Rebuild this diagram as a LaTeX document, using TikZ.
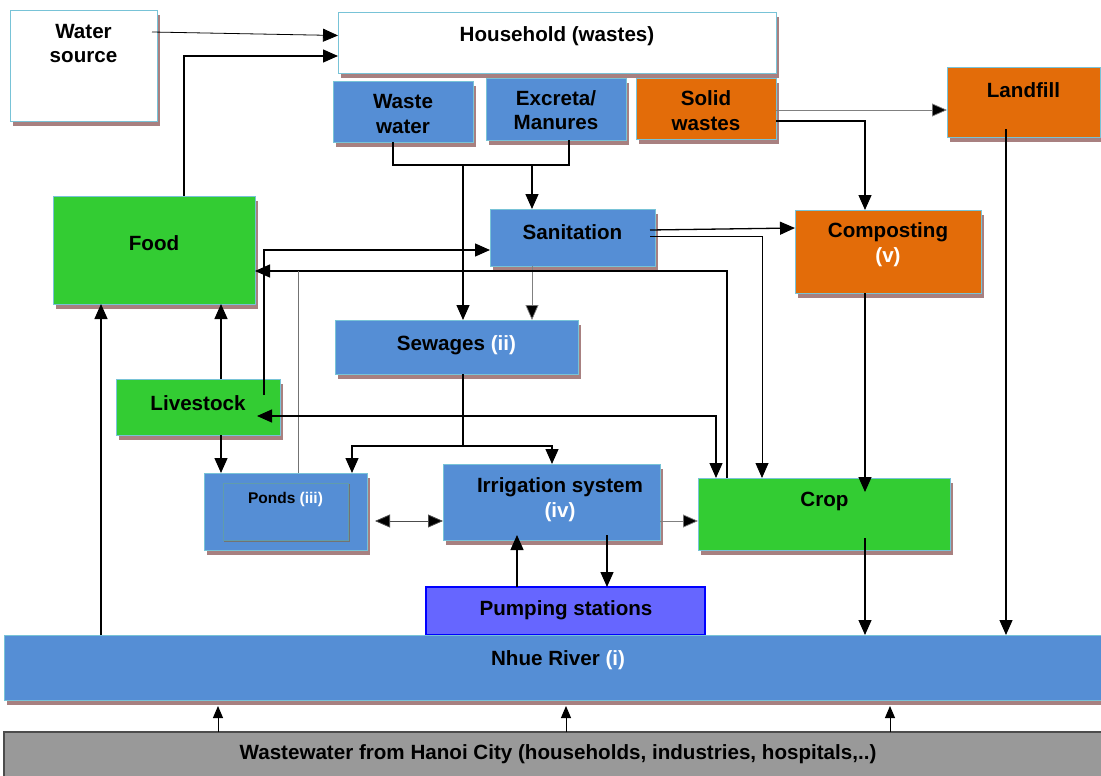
\documentclass[tikz,border=0pt]{standalone}
\usepackage{fontspec}
\setmainfont{Liberation Sans}
\usetikzlibrary{arrows.meta,calc,shadows}
\definecolor{bl}{RGB}{85,142,213}
\definecolor{og}{RGB}{227,108,9}
\definecolor{gr}{RGB}{51,204,51}
\definecolor{pu}{RGB}{102,102,255}
\definecolor{gy}{RGB}{153,153,153}
\definecolor{bd}{RGB}{120,195,215}
\definecolor{shd}{RGB}{168,128,128}
\begin{document}
\begin{tikzpicture}[x=1pt,y=-1pt,
  box/.style={draw=bd, line width=0.8pt, inner sep=0pt, outer sep=0pt,
    drop shadow={shadow xshift=3pt,shadow yshift=-5pt,fill=shd,opacity=1,draw=none}},
  flat/.style={inner sep=0pt, outer sep=0pt},
  lbl/.style={font=\fontsize{20.6}{24.5}\selectfont\bfseries, align=center, inner sep=0pt},
  slbl/.style={font=\fontsize{15.5}{18}\selectfont\bfseries, align=center, inner sep=0pt},
  line/.style={line width=1.3pt},
  arr/.style={line width=1.3pt, -{Triangle[length=15pt,width=13pt]}},
  arrb/.style={line width=1.3pt, {Triangle[length=15pt,width=13pt]}-{Triangle[length=15pt,width=13pt]}},
  tarr/.style={line width=0.8pt, -{Triangle[length=15pt,width=13pt]}},
  tarrb/.style={line width=0.8pt, draw=black!70, {Triangle[length=15pt,width=13pt,fill=black]}-{Triangle[length=15pt,width=13pt,fill=black]}},
  garr/.style={line width=0.7pt, draw=black!50, -{Triangle[length=15pt,width=13pt,fill=black]}},
  gline/.style={line width=0.7pt, draw=black!55},
  sarr/.style={line width=1pt, -{Triangle[length=12pt,width=10pt]}}
]
\useasboundingbox (0,0) rectangle (1101,776);
\clip (0,0) rectangle (1101,776);

% boxes
\node[box, fill=white, minimum width=147pt, minimum height=111pt] (ws) at (83.5,65.5) {};
\node[box, fill=white, minimum width=438pt, minimum height=61pt] (hh) at (557,42.5) {};
\node[box, fill=bl, minimum width=140pt, minimum height=61pt] (wwt) at (403,111.5) {};
\node[box, fill=bl, minimum width=140pt, minimum height=62pt] (exc) at (556,109) {};
\node[box, fill=og, minimum width=140pt, minimum height=61pt] (sol) at (706,108.5) {};
\node[box, fill=og, minimum width=153pt, minimum height=70pt] (land) at (1023.5,102) {};
\node[box, fill=gr, minimum width=202pt, minimum height=108pt] (food) at (154,250) {};
\node[box, fill=bl, minimum width=165pt, minimum height=57pt] (san) at (572.5,237.5) {};
\node[box, fill=og, minimum width=186pt, minimum height=83pt] (comp) at (888,251.5) {};
\node[box, fill=bl, minimum width=243pt, minimum height=54pt] (sew) at (456.5,347) {};
\node[box, fill=gr, minimum width=164pt, minimum height=56pt] (live) at (198,407) {};
\node[box, fill=bl, minimum width=163pt, minimum height=77pt] (ponds) at (285.5,511.5) {};
\node[flat, draw=black!55, line width=0.6pt, fill=black!55, minimum width=125pt, minimum height=57pt] (pondsh) at (287,513) {};
\node[flat, draw=bd!80!black, line width=0.6pt, fill=bl, minimum width=125pt, minimum height=57pt] (pondsin) at (285.5,511.5) {};
\node[box, fill=bl, minimum width=217pt, minimum height=76pt] (irr) at (551.5,502) {};
\node[box, fill=gr, minimum width=252pt, minimum height=72pt] (crop) at (824,514) {};
\node[flat, draw=blue, line width=1.5pt, fill=pu, minimum width=279pt, minimum height=48pt] (pump) at (565.5,611) {};
\node[box, fill=bl, minimum width=1106pt, minimum height=65pt] (nhue) at (557,667.5) {};
\node[flat, draw=black!70, line width=1.5pt, fill=gy, minimum width=1106pt, minimum height=53pt] (hanoi) at (557,758.5) {};

% labels
\node[lbl] (wsT) at (83.5,43.5) {Water\\source};
\node[lbl] (hhT) at (557,36) {Household (wastes)};
\node[lbl] (wwtT) at (403,114) {Waste\\water};
\node[lbl] (excT) at (556,110) {Excreta/\\Manures};
\node[lbl] (solT) at (706,110.5) {Solid\\wastes};
\node[lbl] (landT) at (1023.5,90) {Landfill};
\node[lbl] (foodT) at (154,243) {Food};
\node[lbl] (sanT) at (572.5,232) {Sanitation};
\node[lbl] (compT) at (888,244.5) {Composting\\{\color{white}(v)}};
\node[lbl] (sewT) at (456.5,345) {Sewages {\color{white}(ii)}};
\node[lbl] (liveT) at (198,403) {Livestock};
\node[slbl] (pondsT) at (285.5,499) {Ponds {\color{white}(iii)}};
\node[lbl] (irrT) at (560,499.5) {Irrigation system\\{\color{white}(iv)}};
\node[lbl] (cropT) at (824.5,501) {Crop};
\node[lbl] (pumpT) at (566,610) {Pumping stations};
\node[lbl] (nhueT) at (558,660) {Nhue River {\color{white}(i)}};
\node[lbl] (hanoiT) at (558,754) {Wastewater from Hanoi City (households, industries, hospitals,..)};

% connectors
\draw[tarr] ($(ws.north east)+(-5,22)$) -- ($(hh.north west)+(0,23.5)$);
\draw[arr] ($(food.north west)+(131,0)$) |- ($(hh.north west)+(0,44)$);
\draw[line] ($(wwt.south west)+(60,0)$) |- ($(exc.south west)+(83,25)$) -- ($(exc.south west)+(83,0)$);
\draw[arr] ($(san.north west)+(42,-44)$) -- ($(san.north west)+(42,0)$);
\draw[arr] ($(sew.north west)+(128,-155)$) -- ($(sew.north west)+(128,0)$);
\draw[garr] ($(san.south west)+(42,0)$) -- ($(sew.north west)+(197,0)$);
\draw[arr] ($(san.north east)+(-5,21)$) -- ($(comp.north west)+(0,18)$);
\draw[tarr] ($(san.north east)+(-5,27)$) -| ($(crop.north west)+(64,0)$);
\draw[garr] ($(sol.north east)+(0,32)$) -- ($(land.north west)+(0,43)$);
\draw[arr] ($(sol.north east)+(0,43)$) -| ($(comp.north west)+(70,0)$);
\coordinate (lfx) at ($(land.north west)+(59,62)$);
\draw[arr] (lfx) -- (lfx |- nhue.north);
\draw[arr] ($(comp.south west)+(70,0)$) -- ($(crop.north west)+(167,14)$);
\coordinate (cpx) at ($(crop.north west)+(167,60)$);
\draw[arr] (cpx) -- (cpx |- nhue.north);
\draw[arr] ($(crop.north west)+(29,0)$) |- ($(food.north east)+(0,75)$);
\draw[gline] ($(ponds.north west)+(94,0)$) -- ($(ponds.north west)+(94,-202)$);
\draw[arr] ($(live.north east)+(-16,16)$) |- ($(san.north west)+(0,41)$);
\draw[arrb] ($(live.north east)+(-23,37)$) -| ($(crop.north west)+(18,0)$);
\draw[arr] ($(live.north west)+(105,0)$) -- ($(food.south west)+(168,0)$);
\draw[arr] ($(live.south west)+(105,0)$) -- ($(ponds.north west)+(17,0)$);
\coordinate (nfx) at ($(food.south west)+(48,0)$);
\draw[arr] (nfx |- nhue.north) -- (nfx);
\coordinate (sj) at ($(sew.south west)+(128,72)$);
\draw[line] ($(sew.south west)+(128,0)$) -- (sj);
\draw[arr] (sj) -| ($(ponds.north west)+(148,0)$);
\draw[arr] (sj) -| ($(irr.north west)+(109,0)$);
\draw[tarrb] ($(ponds.north east)+(8,48)$) -- ($(irr.north west)+(0,57)$);
\draw[garr] ($(irr.north east)+(0,57)$) -- ($(crop.north west)+(0,43)$);
\draw[arr] ($(pump.north west)+(91,0)$) -- ($(irr.south west)+(74,-5)$);
\draw[arr] ($(irr.south west)+(164,-5)$) -- ($(pump.north west)+(181,0)$);
\foreach \xx in {214,562,886}{
  \draw[sarr] ($(hanoi.north west)+(\xx,0)$) -- ($(nhue.south west)+(\xx,6)$);
}
\end{tikzpicture}
\end{document}
